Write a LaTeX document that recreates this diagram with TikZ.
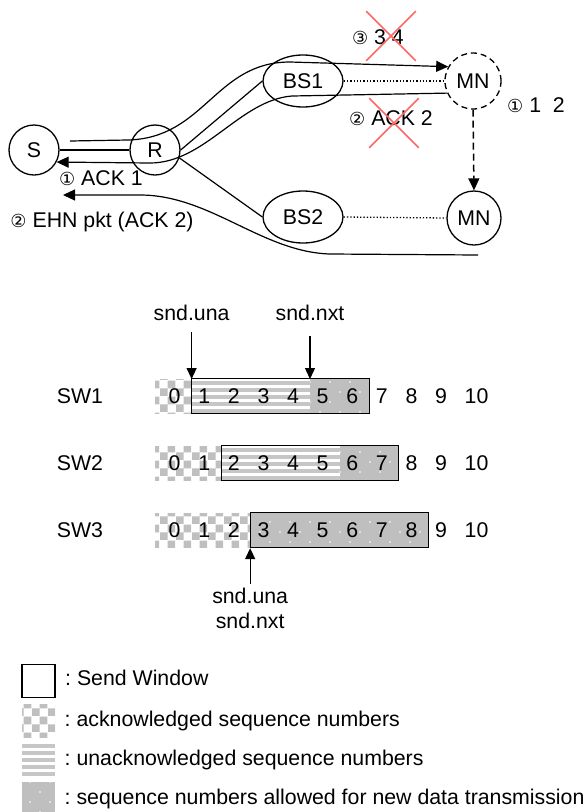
\documentclass[tikz,border=0pt]{standalone}
\usepackage{fontspec}
\setmainfont{Liberation Sans}
\newfontfamily\circfont{DejaVu Sans}
\usetikzlibrary{arrows.meta, positioning, shapes.geometric, shapes.misc, patterns}
\frenchspacing

% fill patterns for the window cells
\pgfdeclarepatternformonly{ackcheck}{\pgfpointorigin}{\pgfqpoint{16pt}{16pt}}{\pgfqpoint{16pt}{16pt}}{%
  \pgfpathrectangle{\pgfpointorigin}{\pgfqpoint{8pt}{8pt}}%
  \pgfpathrectangle{\pgfqpoint{8pt}{8pt}}{\pgfqpoint{8pt}{8pt}}%
  \pgfusepath{fill}}
\pgfdeclarepatternformonly{newdots}{\pgfqpoint{-1pt}{-1pt}}{\pgfqpoint{19pt}{19pt}}{\pgfqpoint{20pt}{20pt}}{%
  \pgfpathcircle{\pgfpointorigin}{0.9pt}%
  \pgfpathcircle{\pgfqpoint{10pt}{10pt}}{0.9pt}%
  \pgfusepath{fill}}

\newcommand{\cnum}[1]{{\circfont\fontsize{18pt}{20pt}\selectfont #1}}

\begin{document}
\begin{tikzpicture}[
    x=1pt, y=-1pt,
    every node/.style={font=\fontsize{21.3pt}{25pt}\selectfont},
    host/.style={circle, draw, line width=1.3pt, minimum size=50pt, inner sep=0pt},
    bs/.style={ellipse, draw, line width=1.3pt, minimum width=80pt, minimum height=52pt, inner sep=0pt},
    link/.style={line width=1.2pt},
    radio/.style={dotted, line width=1.3pt},
    arrow/.style={-{Triangle[length=12pt, width=11pt]}, line width=1.2pt},
    lost/.style={cross out, draw=red!60, line width=1.6pt, minimum width=48pt, minimum height=48pt, inner sep=0pt},
    win/.style={draw, line width=1.3pt, minimum width=177.6pt, minimum height=35pt, inner sep=0pt},
    num/.style={anchor=west, inner sep=0pt},
    key/.style={minimum width=33pt, minimum height=33pt, inner sep=0pt},
    ackfill/.style={pattern=ackcheck, pattern color=gray!50},
    stripe/.style={fill=gray!45},
    newfill/.style={preaction={fill=gray!50}, pattern=newdots, pattern color=white},
    ptr/.style={-{Triangle[length=11pt, width=10pt]}, line width=1.3pt}
]
    \useasboundingbox (0,0) rectangle (587,812);

    % Nodes - network
    \node[host] (s) at (34,150) {S};
    \node[host] (r) at (155,150) {R};
    \node[bs] (bs1) at (303,81) {BS1};
    \node[bs] (bs2) at (303,217) {BS2};
    \node[host, minimum size=56pt, dash pattern=on 6pt off 4pt] (mnold) at (473,81) {MN};
    \node[host, minimum size=54pt] (mnnew) at (474,218) {MN};

    % Links
    \draw[link] (s.east) -- (r.west);
    \draw[link] (r.east) -- (bs1.west);
    \draw[link] (r.-18) -- (bs2.west);
    \draw[radio] (bs1.east) -- (mnold.west);
    \draw[radio] (bs2.east) -- (mnnew.west);
    \draw[arrow, line width=1.5pt, dash pattern=on 7pt off 4pt] (mnold.south) -- (mnnew.north);

    % Data and ACK flows
    \coordinate (data0) at (70,141);
    \coordinate (ehn0) at (478,255);
    \coordinate (ehn1) at (63,195);
    \draw[arrow] (data0) -- (128,140) .. controls (205,138) and (215,62) .. (290,62) -- (mnold.150);
    \draw[arrow] (mnold.205) -- (292,96) .. controls (240,100) and (205,163) .. (150,163) -- (s.-28);
    \draw[arrow] (ehn0) -- (330,254) .. controls (262,252) and (210,195) .. (140,195) -- (ehn1);

    % Labels
    \node (ack1) at (101,178) {\cnum{①} ACK 1};
    \node (ehn) at (102,222) {\cnum{②} EHN pkt (ACK 2)};
    \node (seg34) at (378,37) {\cnum{③} 3 4};
    \node (ack2) at (391,118) {\cnum{②} ACK 2};
    \node (buf12) at (536,105) {\cnum{①} 1~ 2};
    \node[lost] (lost34) at (391,36) {};
    \node[lost] (lostack) at (394,123) {};

    % Send windows
    \foreach \row/\yc/\k/\m in {1/396/1/5, 2/463/2/6, 3/530/3/3} {
        \pgfmathsetmacro{\xa}{162+29.6*\k}
        \pgfmathsetmacro{\xb}{162+29.6*\m}
        \pgfmathsetmacro{\xc}{162+29.6*(\k+6)}
        \fill[ackfill] (155,{\yc-17}) rectangle (\xa,{\yc+17});
        \ifnum\k<\m
            \foreach \j in {0,...,4}
                \fill[stripe] (\xa,{\yc-15+7*\j}) rectangle (\xb,{\yc-11+7*\j});
        \fi
        \fill[newfill] (\xb,{\yc-17}) rectangle (\xc,{\yc+17});
        \node[win] (sw\row) at ({(\xa+\xc)/2},\yc) {};
        \coordinate (una\row) at (\xa,{\yc-17});
        \coordinate (nxt\row) at (\xb,{\yc-17});
        \node (lab\row) at (80,\yc) {SW\row};
        \foreach \i in {0,...,10}
            \node[num] at ({162+29.6*\i+6.5},\yc) {\i};
    }

    % Pointers
    \node[above=55pt of una1] (una) {snd.una};
    \node[above=55pt of nxt1] (nxt) {snd.nxt};
    \draw[ptr, shorten <=8pt] (una) -- (una1);
    \draw[ptr, shorten <=12pt] (nxt) -- (nxt1);
    \node[below=36pt of sw3.south west, align=center] (both) {snd.una\\snd.nxt};
    \draw[ptr] (both) -- (sw3.south west);

    % Legend
    \node[key, draw, line width=1.3pt] (keywin) at (38.5,681) {};
    \node[key, ackfill] (keyack) at (38.5,720.5) {};
    \node[key] (keyunack) at (38.5,759.5) {};
    \foreach \j in {0,...,4}
        \fill[stripe] (22,{744+7*\j}) rectangle (55,{748+7*\j});
    \node[key, newfill] (keynew) at (38.5,798.5) {};
    \node[right=6pt of keywin, yshift=3pt] (txtwin) {: Send Window};
    \node[right=6pt of keyack] (txtack) {: acknowledged sequence numbers};
    \node[right=6pt of keyunack] (txtunack) {: unacknowledged sequence numbers};
    \node[right=6pt of keynew] (txtnew) {: sequence numbers allowed for new data transmission};
\end{tikzpicture}
\end{document}
